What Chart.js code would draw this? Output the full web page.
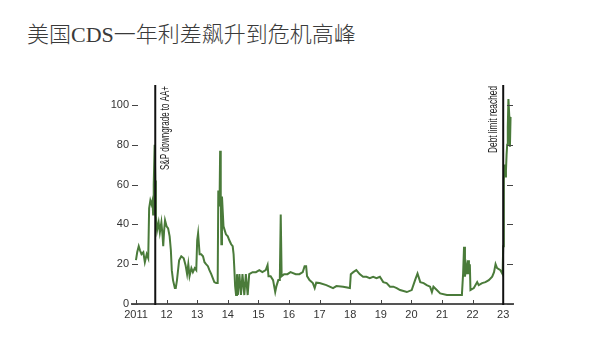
<!DOCTYPE html>
<html>
<head>
<meta charset="utf-8">
<script src="https://cdn.jsdelivr.net/npm/chart.js@4"></script>
<style>
  body { margin: 0; background: #fff; }
  #wrap { position: relative; width: 600px; height: 359px; }
  #title {
    position: absolute; left: 27px; top: 22px;
    font: 300 22px/26px "Liberation Serif", "Noto Sans CJK SC", sans-serif;
    color: #3a3a3a;
  }
  canvas { position: absolute; left: 0; top: 0; }
</style>
</head>
<body>
<div id="wrap">
  <div id="title">美国CDS一年利差飙升到危机高峰</div>
  <canvas id="cds" width="600" height="359"></canvas>
</div>
<script>
// x = fractional year
const years = [
  2011.00, 2011.04, 2011.09, 2011.13, 2011.18, 2011.24, 2011.29, 2011.35, 2011.40, 2011.43,
  2011.47, 2011.51, 2011.54, 2011.56, 2011.58, 2011.61, 2011.63, 2011.65, 2011.69, 2011.74,
  2011.78, 2011.83, 2011.87, 2011.89, 2011.92, 2011.95, 2012.00, 2012.05, 2012.10, 2012.14,
  2012.17, 2012.21, 2012.27, 2012.30, 2012.34, 2012.41, 2012.48, 2012.56, 2012.62, 2012.67,
  2012.71, 2012.75, 2012.81, 2012.86, 2012.92, 2012.97, 2013.00, 2013.03, 2013.08, 2013.13,
  2013.19, 2013.24, 2013.29, 2013.35, 2013.40, 2013.46, 2013.51, 2013.56, 2013.62, 2013.67,
  2013.69, 2013.73, 2013.75, 2013.77, 2013.79, 2013.81, 2013.86, 2013.90, 2013.94, 2014.00,
  2014.05, 2014.11, 2014.16, 2014.19, 2014.21, 2014.24, 2014.27, 2014.30, 2014.33, 2014.38,
  2014.43, 2014.48, 2014.54, 2014.59, 2014.65, 2014.70, 2014.81, 2014.92, 2015.03, 2015.13,
  2015.24, 2015.30, 2015.33, 2015.40, 2015.48, 2015.55, 2015.59, 2015.65, 2015.70, 2015.73,
  2015.76, 2015.84, 2015.95, 2016.05, 2016.22, 2016.34, 2016.45, 2016.51, 2016.56, 2016.59,
  2016.67, 2016.78, 2016.84, 2016.89, 2017.00, 2017.22, 2017.44, 2017.55, 2017.77, 2017.99,
  2018.02, 2018.10, 2018.20, 2018.31, 2018.42, 2018.53, 2018.64, 2018.75, 2018.86, 2018.97,
  2019.08, 2019.19, 2019.30, 2019.41, 2019.52, 2019.63, 2019.85, 2020.01, 2020.12, 2020.20,
  2020.29, 2020.40, 2020.50, 2020.61, 2020.67, 2020.72, 2020.83, 2020.94, 2021.16, 2021.65,
  2021.69, 2021.72, 2021.75, 2021.79, 2021.82, 2021.85, 2021.88, 2021.91, 2021.93, 2022.04,
  2022.15, 2022.20, 2022.31, 2022.42, 2022.53, 2022.64, 2022.70, 2022.75, 2022.80, 2022.91,
  2022.98, 2023.00, 2023.02, 2023.04, 2023.07, 2023.09, 2023.11, 2023.13, 2023.15, 2023.17,
  2023.20, 2023.22, 2023.24
];
const spread = [
  22, 26, 29, 27, 25, 26, 21, 25, 23, 48,
  52, 50, 52, 45, 60, 80, 62, 44, 37, 41,
  36, 41, 34, 29, 37, 42, 39, 38, 34, 27,
  17, 12, 8, 8, 12, 22, 24, 23, 19.5, 15,
  20, 14, 18, 16, 18, 17, 32, 35.5, 25, 25,
  24, 21, 20, 19, 17, 15, 13, 11, 10.5, 10.5,
  57, 49, 77, 55, 30, 54, 39, 37, 35, 34,
  32, 30, 29, 25, 19, 9, 4.5, 15, 4.5, 15,
  4.5, 15, 4.5, 15, 4.5, 15, 16, 16, 17, 16,
  17, 19.5, 14, 14, 12, 6, 9, 12, 12, 45,
  14, 15, 15, 16, 15, 15, 16, 19, 19, 14,
  12, 10.5, 8, 10.7, 10.5, 9.5, 8, 9, 8.7, 8,
  15, 16, 17, 15, 13.7, 13.7, 13, 13.7, 13, 13.7,
  11, 10.5, 8.7, 8.7, 8, 7, 6, 7, 12, 15.3,
  11, 10.5, 9.5, 8.7, 6, 8.7, 7, 5.3, 4.5, 4.5,
  15.3, 28.8, 13.7, 18.7, 15, 22, 15, 20, 7, 8,
  11, 9.5, 10.5, 11, 12, 13.7, 16, 20, 18, 17,
  15, 29, 62, 70, 64, 67, 75, 80, 89, 103,
  94, 79, 94
];

const yearTicks = [2011, 2012, 2013, 2014, 2015, 2016, 2017, 2018, 2019, 2020, 2021, 2022, 2023];
const yearLabels = ['2011', '12', '13', '14', '15', '16', '17', '18', '19', '20', '21', '22', '23'];
const valueTicks = [0, 20, 40, 60, 80, 100];

const eventYears = [2011.63, 2023.0];
const eventLabels = ['S&P downgrade to AA+', 'Debt limit reached'];

const points = years.map((x, i) => ({ x: x, y: spread[i] }));

// inward tick marks on both y sides and the x axis, plus the two event lines
const marks = {
  id: 'marks',
  afterDatasetsDraw(chart) {
    const ctx = chart.ctx;
    const area = chart.chartArea;
    const xs = chart.scales.x;
    const ys = chart.scales.y;
    ctx.save();
    ctx.strokeStyle = '#444';
    ctx.lineWidth = 1;
    ctx.beginPath();
    valueTicks.forEach(v => {
      const py = Math.round(ys.getPixelForValue(v)) + 0.5;
      ctx.moveTo(area.left, py);
      ctx.lineTo(area.left + 6, py);
      ctx.moveTo(area.right - 6, py);
      ctx.lineTo(area.right, py);
    });
    yearTicks.forEach(v => {
      const px = Math.round(xs.getPixelForValue(v)) + 0.5;
      ctx.moveTo(px, area.bottom);
      ctx.lineTo(px, area.bottom - 4);
    });
    ctx.stroke();

    ctx.strokeStyle = '#111';
    ctx.lineWidth = 2;
    ctx.fillStyle = '#222';
    ctx.font = '13px "Liberation Sans", sans-serif';
    // condensed look: squeeze the labels to the length they have in the original
    const textLen = [84, 67];
    eventYears.forEach((yr, i) => {
      const px = xs.getPixelForValue(yr);
      ctx.beginPath();
      ctx.moveTo(px, area.top);
      ctx.lineTo(px, area.bottom + 1);
      ctx.stroke();
      ctx.save();
      if (i === 0) {
        ctx.translate(px + 4, area.top + 1);
        ctx.textBaseline = 'top';
      } else {
        ctx.translate(px - 3, area.top + 1);
        ctx.textBaseline = 'bottom';
      }
      ctx.rotate(-Math.PI / 2);
      ctx.scale(textLen[i] / ctx.measureText(eventLabels[i]).width, 1);
      ctx.textAlign = 'right';
      ctx.fillText(eventLabels[i], 0, 0);
      ctx.restore();
    });
    ctx.restore();
  }
};

new Chart(document.getElementById('cds'), {
  type: 'line',
  data: {
    datasets: [{
      data: points,
      borderColor: '#4a7b3a',
      borderWidth: 2,
      pointRadius: 0,
      tension: 0
    }]
  },
  options: {
    responsive: false,
    animation: false,
    devicePixelRatio: 1,
    layout: { padding: { top: 85, right: 87, left: 0, bottom: 0 } },
    plugins: {
      legend: { display: false },
      tooltip: { enabled: false }
    },
    scales: {
      x: {
        type: 'linear',
        min: 2010.87,
        max: 2023.32,
        afterBuildTicks: s => { s.ticks = yearTicks.map(v => ({ value: v })); },
        afterFit: s => { s.height = 55; },
        grid: { display: false, drawTicks: false },
        border: { display: true, color: '#555', width: 2 },
        ticks: {
          padding: 4,
          color: '#333',
          font: { family: 'Liberation Sans', size: 11 },
          maxRotation: 0,
          callback: v => yearLabels[yearTicks.indexOf(v)]
        }
      },
      y: {
        min: 0,
        max: 110,
        afterBuildTicks: s => { s.ticks = valueTicks.map(v => ({ value: v })); },
        afterFit: s => { s.width = 132; },
        grid: { display: false, drawTicks: false },
        border: { display: false },
        ticks: {
          padding: 3,
          color: '#333',
          font: { family: 'Liberation Sans', size: 11 }
        }
      }
    }
  },
  plugins: [marks]
});
</script>
</body>
</html>
